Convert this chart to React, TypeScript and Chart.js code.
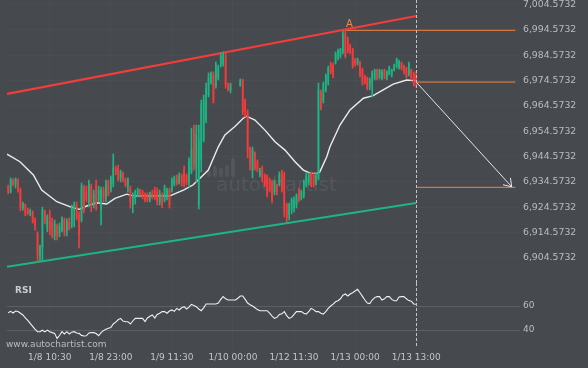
import React, { useEffect, useRef } from 'react';
import { Chart, registerables } from 'chart.js';

Chart.register(...registerables);

const FONT = "'DejaVu Sans', sans-serif";
const BG = '#46494e';
const UP = '#1db584';
const DOWN = '#f43c3c';
const FAINT = 'rgba(255,255,255,0.022)';
const LABEL = '#b9bdc1';

// ---- candles (30 min bars), null = no bar ----
const candleOpen = [
  6932.9, 6930.5, 6935.3, 6933.7, 6935.3, 6931.3, 6924.2, 6925.4, 6923.4, 6921.9,
  6922.7, 6919.5, 6914.0, 6905.3, 6908.8, 6922.7, 6916.3, 6921.9, 6918.7, 6913.2,
  6917.1, 6914.0, 6915.5, 6919.5, 6915.5, 6918.7, 6917.5, 6923.4, 6925.4, 6921.5,
  6919.5, 6932.1, 6930.5, 6926.6, 6932.9, 6925.4, 6933.7, 6927.4, 6923.4, 6931.3,
  6928.2, 6934.5, 6931.3, 6933.7, 6940.0, 6940.0, 6936.1, 6937.7, 6935.3, 6932.9,
  6932.1, 6925.4, 6928.2, 6929.0, 6931.3, 6930.5, 6929.8, 6929.4, 6927.8, 6930.5,
  6931.3, 6930.5, 6926.6, 6929.4, 6927.4, 6929.4, 6931.3, 6931.3, 6933.7, 6936.1,
  6934.5, 6936.9, 6939.2, 6936.9, 6934.5, 6938.5, 6955.0, 6940.0, 6925.4, 6943.2,
  6951.1, 6959.0, 6968.9, 6974.0, 6976.8, 6972.4, 6975.6, 6980.7, 6981.1, 6984.3,
  6973.2, 6970.9, null, null, null, 6972.4, 6974.8, 6966.9, 6962.2, 6947.9,
  6939.2, 6946.0, 6942.4, 6937.3, 6940.0, 6937.3, 6936.9, 6935.3, 6934.5, 6930.5,
  6933.3, 6933.3, 6938.5, 6937.3, 6925.4, 6921.5, 6923.4, 6924.2, 6925.4, 6931.3,
  6928.2, 6929.4, 6933.3, 6934.5, 6937.7, 6937.3, 6934.1, 6936.1, 6970.1, 6966.9,
  6970.9, 6974.0, 6981.1, 6980.7, 6981.9, 6983.5, 6984.3, 6985.9, 6993.0, 6990.6,
  6988.6, 6986.7, 6982.7, 6981.1, 6981.9, 6978.8, 6976.4, 6975.6, 6972.4, 6974.0,
  6975.6, 6978.8, 6976.0, 6975.6, 6978.8, 6975.6, 6977.2, 6976.8, 6978.8, 6980.3,
  6979.9, 6981.5, 6980.3, 6979.5, 6977.2, 6978.8, 6977.6, 6976.4,
];
const candleHigh = [
  6933.3, 6936.1, 6935.7, 6936.1, 6935.7, 6932.1, 6926.6, 6925.8, 6924.2, 6923.8,
  6923.1, 6920.3, 6914.8, 6909.6, 6924.6, 6923.4, 6921.5, 6923.4, 6920.3, 6919.5,
  6917.9, 6918.3, 6920.7, 6920.3, 6919.9, 6920.3, 6925.4, 6926.6, 6926.6, 6922.7,
  6934.1, 6933.3, 6932.9, 6935.3, 6933.7, 6931.3, 6935.3, 6932.9, 6932.5, 6932.5,
  6935.3, 6935.3, 6936.9, 6945.6, 6940.8, 6941.2, 6939.2, 6938.5, 6936.1, 6936.1,
  6932.9, 6930.2, 6931.3, 6932.1, 6931.7, 6931.3, 6930.2, 6930.2, 6930.5, 6931.3,
  6932.5, 6932.1, 6931.3, 6930.2, 6933.3, 6932.1, 6932.1, 6936.1, 6936.9, 6937.3,
  6938.1, 6937.7, 6940.8, 6937.7, 6944.0, 6955.8, 6957.0, 6957.0, 6957.0, 6966.9,
  6968.9, 6973.6, 6977.6, 6978.0, 6978.0, 6981.9, 6980.7, 6985.5, 6985.9, 6985.5,
  6973.6, 6973.6, null, null, null, 6975.2, 6975.2, 6967.3, 6963.0, 6948.3,
  6948.3, 6946.4, 6943.2, 6940.0, 6940.8, 6937.7, 6937.3, 6936.1, 6935.3, 6935.3,
  6933.7, 6938.5, 6939.2, 6938.5, 6926.2, 6926.2, 6928.2, 6928.6, 6929.8, 6932.1,
  6931.3, 6935.3, 6938.1, 6938.1, 6938.5, 6938.1, 6938.1, 6973.6, 6970.9, 6974.0,
  6977.2, 6980.3, 6981.9, 6981.5, 6985.9, 6987.0, 6987.4, 6994.2, 6994.5, 6991.8,
  6989.0, 6987.4, 6983.5, 6983.5, 6982.3, 6979.5, 6976.8, 6976.0, 6975.6, 6978.4,
  6979.1, 6979.1, 6979.1, 6978.8, 6979.1, 6978.4, 6980.3, 6979.1, 6981.1, 6983.5,
  6982.7, 6981.9, 6980.7, 6979.9, 6981.9, 6979.1, 6978.0, 6978.0,
];
const candleLow = [
  6929.8, 6930.2, 6932.9, 6932.1, 6930.5, 6923.1, 6923.4, 6921.1, 6921.5, 6921.1,
  6918.3, 6915.5, 6902.9, 6903.3, 6903.7, 6917.9, 6914.8, 6913.6, 6912.4, 6911.6,
  6911.6, 6912.8, 6914.8, 6913.2, 6913.2, 6915.5, 6916.3, 6916.7, 6919.5, 6908.4,
  6918.7, 6922.3, 6926.6, 6924.6, 6922.7, 6924.2, 6923.4, 6926.6, 6917.5, 6926.6,
  6926.6, 6929.0, 6930.5, 6932.5, 6937.3, 6934.9, 6934.5, 6934.5, 6932.5, 6930.5,
  6924.2, 6922.3, 6925.8, 6928.6, 6929.0, 6927.8, 6926.6, 6926.6, 6926.6, 6927.8,
  6927.4, 6925.4, 6925.4, 6924.2, 6926.6, 6927.4, 6924.2, 6930.5, 6932.9, 6933.3,
  6933.7, 6932.9, 6932.5, 6933.3, 6932.5, 6937.7, 6939.2, 6934.5, 6923.8, 6938.5,
  6950.3, 6957.8, 6968.1, 6973.2, 6965.7, 6971.6, 6974.8, 6979.9, 6980.3, 6971.6,
  6970.5, 6969.7, null, null, null, 6972.4, 6961.0, 6960.2, 6944.0, 6939.2,
  6936.1, 6939.2, 6938.5, 6936.5, 6934.5, 6932.5, 6928.6, 6930.5, 6926.2, 6929.4,
  6929.4, 6932.9, 6930.5, 6920.7, 6918.7, 6919.5, 6921.9, 6922.7, 6924.2, 6926.6,
  6927.4, 6928.2, 6932.5, 6933.3, 6932.5, 6932.5, 6933.3, 6935.3, 6963.0, 6965.7,
  6970.1, 6972.8, 6977.2, 6975.6, 6981.1, 6982.7, 6983.5, 6985.1, 6983.5, 6985.5,
  6985.1, 6979.5, 6980.3, 6980.7, 6976.0, 6972.8, 6973.2, 6970.9, 6970.9, 6968.1,
  6974.8, 6974.8, 6975.2, 6974.8, 6975.2, 6974.8, 6976.8, 6976.0, 6978.4, 6979.5,
  6979.1, 6978.8, 6977.2, 6975.6, 6976.4, 6974.8, 6972.4, 6972.0,
];
const candleClose = [
  6930.5, 6935.3, 6933.7, 6935.7, 6931.3, 6924.2, 6925.8, 6921.9, 6922.3, 6923.1,
  6918.7, 6917.1, 6905.7, 6908.8, 6923.4, 6919.5, 6920.7, 6915.5, 6913.2, 6917.9,
  6913.2, 6917.1, 6919.9, 6914.8, 6918.7, 6915.9, 6924.2, 6925.4, 6920.3, 6913.6,
  6932.9, 6923.4, 6927.4, 6933.7, 6925.0, 6929.4, 6925.4, 6931.3, 6931.3, 6928.2,
  6933.7, 6929.4, 6936.1, 6940.0, 6938.5, 6935.3, 6938.5, 6935.3, 6933.3, 6935.3,
  6926.6, 6929.0, 6930.5, 6931.3, 6929.4, 6928.6, 6927.4, 6927.4, 6929.8, 6929.0,
  6928.2, 6926.6, 6929.8, 6925.4, 6932.1, 6931.3, 6925.4, 6935.3, 6936.1, 6933.7,
  6936.9, 6934.5, 6933.7, 6934.1, 6942.4, 6947.1, 6941.2, 6953.1, 6951.1, 6964.9,
  6966.9, 6971.6, 6975.6, 6977.2, 6966.9, 6980.7, 6979.5, 6984.3, 6984.7, 6972.8,
  6971.2, 6972.8, null, null, null, 6974.8, 6962.2, 6962.2, 6947.1, 6941.2,
  6947.1, 6940.0, 6939.2, 6939.2, 6935.3, 6933.3, 6929.4, 6931.3, 6927.4, 6934.5,
  6930.5, 6937.7, 6931.3, 6923.4, 6920.3, 6925.4, 6927.4, 6927.4, 6929.0, 6927.4,
  6930.5, 6934.5, 6936.9, 6937.3, 6932.9, 6933.3, 6936.9, 6970.9, 6963.7, 6973.2,
  6976.4, 6979.5, 6978.0, 6976.8, 6985.1, 6986.3, 6986.7, 6993.0, 6984.3, 6986.3,
  6985.9, 6980.3, 6981.1, 6983.1, 6976.8, 6974.0, 6974.0, 6971.6, 6974.8, 6977.6,
  6978.8, 6975.6, 6978.8, 6978.0, 6976.0, 6978.0, 6979.9, 6978.8, 6980.7, 6983.1,
  6982.3, 6979.5, 6978.0, 6976.0, 6981.1, 6975.6, 6973.2, 6974.0,
];

// ---- moving average (sampled along the curve) ----
const maIdx = [
  -0.5, 4.8, 10.3, 13.7, 19.9, 26.0, 29.1, 32.1, 36.2, 40.3, 43.7, 48.5, 51.1, 58.0,
  66.2, 71.7, 75.6, 78.5, 81.9, 86.0, 88.7, 92.8, 96.2, 97.6, 101.0, 105.1, 109.2,
  113.3, 117.4, 120.8, 123.6, 126.3, 127.5, 130.4, 131.7, 135.8, 139.9, 145.4, 149.4,
  153.5, 157.6, 163.1, 167,
];
const maVal = [
  6945.5, 6942.5, 6937.3, 6931.3, 6926.7, 6924.5, 6923.7, 6925.0, 6926.3, 6925.8,
  6928.0, 6929.7, 6929.0, 6929.0, 6929.0, 6931.3, 6933.3, 6936.0, 6939.2, 6948.4,
  6953.1, 6956.4, 6959.7, 6960.5, 6959.0, 6955.0, 6950.4, 6947.1, 6942.5, 6939.2,
  6938.0, 6937.9, 6938.4, 6944.5, 6948.4, 6957.0, 6963.0, 6967.6, 6968.6, 6970.9,
  6973.2, 6974.8, 6974.5,
];

// ---- RSI per candle ----
const rsiValues = [
  54.4, 55.6, 54.2, 55.8, 55.4, 54.0, 52.5, 50.2, 48.0, 45.5,
  43.0, 40.5, 38.6, 38.6, 39.8, 38.4, 39.9, 38.5, 37.8, 37.2,
  33.0, 35.4, 38.6, 36.7, 38.6, 36.7, 38.2, 38.6, 37.5, 37.2,
  35.5, 35.0, 35.2, 37.5, 37.8, 37.8, 37.0, 35.2, 37.8, 39.5,
  40.6, 41.5, 42.0, 45.0, 46.5, 48.5, 49.7, 47.5, 46.9, 46.9,
  45.0, 47.5, 49.7, 49.7, 49.7, 49.7, 47.0, 50.0, 51.5, 52.5,
  50.0, 53.0, 54.0, 55.3, 55.3, 54.0, 55.8, 56.7, 55.5, 58.0,
  56.7, 58.5, 59.4, 57.5, 59.0, 61.4, 60.5, 59.4, 57.5, 56.1,
  58.5, 61.7, 61.7, 61.7, 61.7, 61.7, 62.5, 65.5, 67.8, 66.0,
  65.0, 65.0, 65.0, 65.0, 66.5, 68.3, 68.3, 65.5, 62.5, 61.0,
  60.0, 58.5, 57.0, 56.1, 56.1, 56.1, 56.1, 54.0, 51.5, 49.7,
  50.5, 53.0, 53.5, 55.3, 52.0, 49.7, 50.5, 53.0, 55.3, 55.3,
  55.3, 54.0, 53.3, 55.3, 58.0, 57.0, 55.3, 55.3, 54.0, 53.3,
  55.3, 58.0, 60.0, 61.5, 63.5, 64.4, 66.0, 69.0, 70.0, 68.3,
  70.0, 71.1, 72.5, 73.9, 71.0, 68.0, 65.0, 62.5, 62.0, 65.0,
  67.0, 67.8, 67.8, 65.0, 66.0, 67.8, 67.8, 65.5, 64.4, 64.4,
  67.5, 67.8, 67.8, 66.0, 64.5, 64.0, 61.7, 61.5,
];

// ---- pattern / forecast ----
const channelTopIdx = [-0.5, 167];
const channelTopVal = [6969.3, 7000.1];
const channelBottomIdx = [-0.5, 167];
const channelBottomVal = [6901.0, 6926.2];
const levelEndIdx = 207.6;
const peakIdx = 138;
const peakLevel = 6994.45;
const entryLevel = 6974.0;
const targetLevel = 6932.4;
const arrowIdx = [167, 206.1];
const arrowVal = [6974.0, 6932.6];

// ---- axes ----
const priceTicks = [
  6904.5732, 6914.5732, 6924.5732, 6934.5732, 6944.5732, 6954.5732,
  6964.5732, 6974.5732, 6984.5732, 6994.5732, 7004.5732,
];
const priceMin = 6894.5732;
const priceMax = 7006.43;
const rsiTicks = [40, 60];
const rsiMin = 25;
const rsiMax = 79.1667;
const xTickIdx = [17, 42, 67, 92, 117, 142, 167];
const xTickLabels = ['1/8 10:30', '1/8 23:00', '1/9 11:30', '1/10 00:00', '1/12 11:30', '1/13 00:00', '1/13 13:00'];
const xMin = -0.5;
const xMax = 209.5;
const lastIdx = candleClose.length - 1;

function fmtPrice(v: number) {
  const [i, d] = v.toFixed(4).split('.');
  return i.replace(/\B(?=(\d{3})+(?!\d))/g, ',') + '.' + d;
}

function pts(xs: number[], ys: number[]) {
  return xs.map((x, k) => ({ x, y: ys[k] }));
}

function lineDs(data: any[], color: string, width: number, order: number) {
  return {
    type: 'line' as const,
    data,
    borderColor: color,
    borderWidth: width,
    pointRadius: 0,
    tension: 0,
    fill: false,
    order,
  };
}

function dashedLine(chart: any) {
  const { ctx, chartArea, scales } = chart;
  const x = Math.round(scales.x.getPixelForValue(lastIdx)) + 0.5;
  ctx.save();
  ctx.strokeStyle = '#c4c4c4';
  ctx.lineWidth = 1;
  ctx.setLineDash([3, 2]);
  ctx.beginPath();
  ctx.moveTo(x, chartArea.top);
  ctx.lineTo(x, chartArea.bottom);
  ctx.stroke();
  ctx.restore();
}

export default function App() {
  const mainRef = useRef<HTMLCanvasElement>(null);
  const rsiRef = useRef<HTMLCanvasElement>(null);

  useEffect(() => {
    Chart.defaults.font.family = FONT;
    const wick: any[] = [];
    const body: any[] = [];
    const colors: string[] = [];
    for (let i = 0; i < candleOpen.length; i++) {
      const o = candleOpen[i];
      if (o == null) continue;
      const c = candleClose[i] as number;
      wick.push({ x: i, y: [candleLow[i], candleHigh[i]] });
      body.push({ x: i, y: [o, c] });
      colors.push(c >= o ? UP : DOWN);
    }

    const mainPlugin = {
      id: 'mainDeco',
      beforeDatasetsDraw(chart: any) {
        const { ctx } = chart;
        ctx.save();
        ctx.fillStyle = 'rgba(255,255,255,0.07)';
        ctx.font = `20px ${FONT}`;
        ctx.textBaseline = 'alphabetic';
        ctx.fillText('autochartist', 216, 191);
        const bars = [[207, 171, 6], [213, 166, 11], [219, 168, 9], [225, 165, 12], [231, 158, 19]];
        bars.forEach(([bx, by, bh]) => {
          ctx.beginPath();
          ctx.roundRect(bx, by, 4, bh, 2);
          ctx.fill();
        });
        ctx.restore();
      },
      afterDatasetsDraw(chart: any) {
        const { ctx, scales } = chart;
        const xs = scales.x;
        const ys = scales.y;
        const x1 = xs.getPixelForValue(arrowIdx[0]);
        const y1 = ys.getPixelForValue(arrowVal[0]);
        const x2 = xs.getPixelForValue(arrowIdx[1]);
        const y2 = ys.getPixelForValue(arrowVal[1]);
        const ang = Math.atan2(y2 - y1, x2 - x1);
        const L = 9;
        ctx.save();
        ctx.strokeStyle = '#e6e6e6';
        ctx.lineWidth = 1;
        ctx.beginPath();
        ctx.moveTo(x2 - L * Math.cos(ang - 0.6), y2 - L * Math.sin(ang - 0.6));
        ctx.lineTo(x2, y2);
        ctx.lineTo(x2 - L * Math.cos(ang + 0.6), y2 - L * Math.sin(ang + 0.6));
        ctx.stroke();
        ctx.fillStyle = '#e88a4e';
        ctx.font = `10px ${FONT}`;
        ctx.textAlign = 'center';
        ctx.textBaseline = 'middle';
        ctx.fillText('A', xs.getPixelForValue(peakIdx) + 4, ys.getPixelForValue(peakLevel) - 6);
        ctx.restore();
        dashedLine(chart);
      },
    };

    const main = new Chart(mainRef.current!, {
      type: 'bar',
      data: {
        datasets: [
          { type: 'bar', data: wick, backgroundColor: colors, barThickness: 1, grouped: false, order: 1 } as any,
          { type: 'bar', data: body, backgroundColor: colors, barThickness: 1, minBarLength: 1, grouped: false, order: 0 } as any,
          lineDs(pts(maIdx, maVal), '#ececec', 1.4, 3),
          lineDs(pts(channelTopIdx, channelTopVal), '#f23d3d', 2.2, 2),
          lineDs(pts(channelBottomIdx, channelBottomVal), '#1db584', 2.2, 2),
          lineDs(pts([peakIdx, levelEndIdx], [peakLevel, peakLevel]), '#f5843f', 1, 2),
          lineDs(pts([lastIdx, levelEndIdx], [entryLevel, entryLevel]), '#f5843f', 1, 2),
          lineDs(pts([lastIdx, levelEndIdx], [targetLevel, targetLevel]), '#f5843f', 1, 2),
          lineDs(pts(arrowIdx, arrowVal), '#e6e6e6', 1, 2),
        ],
      },
      options: {
        animation: false,
        responsive: false,
        devicePixelRatio: 1,
        layout: { padding: { left: 7, top: 0, right: 0, bottom: 0 } },
        plugins: { legend: { display: false }, tooltip: { enabled: false } },
        scales: {
          x: {
            type: 'linear',
            min: xMin,
            max: xMax,
            offset: false,
            ticks: { display: false },
            grid: { color: FAINT, drawTicks: false, offset: false },
            border: { display: false },
            afterBuildTicks: (s: any) => { s.ticks = xTickIdx.map((v) => ({ value: v })); },
            afterFit: (s: any) => { s.height = 0; s.paddingLeft = 0; s.paddingRight = 0; },
          },
          y: {
            position: 'right',
            min: priceMin,
            max: priceMax,
            ticks: { color: LABEL, font: { size: 9.3, family: FONT }, padding: 3, callback: (v: any) => fmtPrice(Number(v)) },
            grid: { color: FAINT, drawTicks: false },
            border: { display: false },
            afterBuildTicks: (s: any) => { s.ticks = priceTicks.map((v) => ({ value: v })); },
            afterFit: (s: any) => { s.width = 68; s.paddingTop = 0; s.paddingBottom = 0; },
          },
        },
      } as any,
      plugins: [mainPlugin],
    });

    const rsiPlugin = {
      id: 'rsiDeco',
      afterDatasetsDraw(chart: any) {
        const { ctx } = chart;
        dashedLine(chart);
        ctx.save();
        ctx.fillStyle = '#c8ccd0';
        ctx.font = `bold 9px ${FONT}`;
        ctx.textBaseline = 'middle';
        ctx.textAlign = 'left';
        ctx.fillText('RSI', 15, 8);
        ctx.fillStyle = '#b9bdc1';
        ctx.font = `9px ${FONT}`;
        ctx.fillText('www.autochartist.com', 6, 62);
        ctx.restore();
      },
    };

    const rsi = new Chart(rsiRef.current!, {
      type: 'line',
      data: {
        datasets: [
          lineDs(rsiValues.map((v, i) => ({ x: i, y: v })), '#f0f0f0', 1.1, 0),
        ],
      },
      options: {
        animation: false,
        responsive: false,
        devicePixelRatio: 1,
        layout: { padding: { left: 7, top: 0, right: 0, bottom: 0 } },
        plugins: { legend: { display: false }, tooltip: { enabled: false } },
        scales: {
          x: {
            type: 'linear',
            min: xMin,
            max: xMax,
            ticks: {
              color: '#c2c6ca',
              font: { size: 9, family: FONT },
              padding: 4,
              maxRotation: 0,
              autoSkip: false,
              callback: (v: any) => { const k = xTickIdx.indexOf(Number(v)); return k >= 0 ? xTickLabels[k] : ''; },
            },
            grid: { color: FAINT, drawTicks: false },
            border: { display: false },
            afterBuildTicks: (s: any) => { s.ticks = xTickIdx.map((v) => ({ value: v })); },
            afterFit: (s: any) => { s.height = 20; s.paddingLeft = 0; s.paddingRight = 0; },
          },
          y: {
            position: 'right',
            min: rsiMin,
            max: rsiMax,
            ticks: { color: LABEL, font: { size: 9, family: FONT }, padding: 3 },
            grid: { color: '#5c6065', drawTicks: false },
            border: { display: false },
            afterBuildTicks: (s: any) => { s.ticks = rsiTicks.map((v) => ({ value: v })); },
            afterFit: (s: any) => { s.width = 68; s.paddingTop = 0; s.paddingBottom = 0; },
          },
        },
      } as any,
      plugins: [rsiPlugin],
    });

    return () => {
      main.destroy();
      rsi.destroy();
    };
  }, []);

  return (
    <div style={{ position: 'fixed', left: 0, top: 0, width: 588, height: 368, background: BG, overflow: 'hidden' }}>
      <canvas ref={mainRef} width={588} height={283} style={{ position: 'absolute', left: 0, top: 0, width: 588, height: 283 }} />
      <canvas ref={rsiRef} width={588} height={85} style={{ position: 'absolute', left: 0, top: 283, width: 588, height: 85 }} />
    </div>
  );
}
